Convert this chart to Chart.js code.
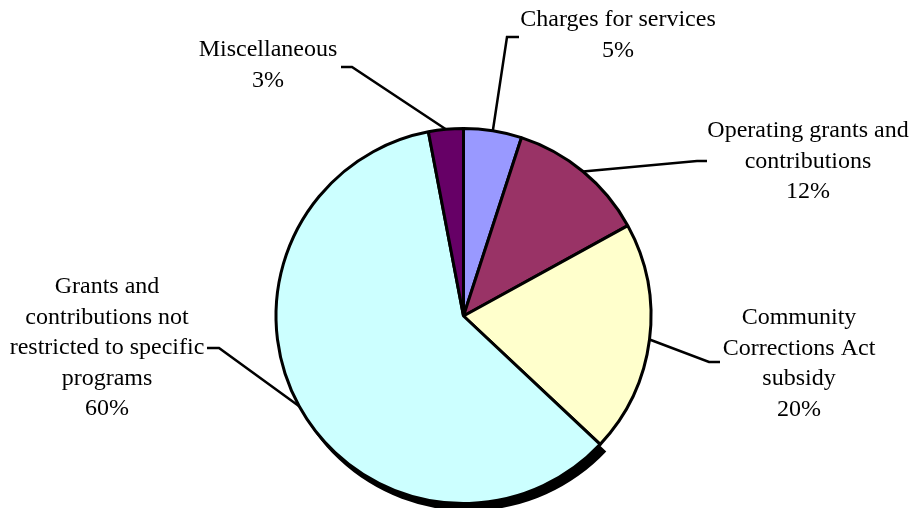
<!DOCTYPE html>
<html>
<head>
<meta charset="utf-8">
<script src="https://cdn.jsdelivr.net/npm/chart.js@4.4.0/dist/chart.umd.min.js"></script>
<style>
  html, body { margin: 0; padding: 0; background: #fff; }
  #wrap { width: 916px; height: 508px; position: relative; }
</style>
</head>
<body>
<div id="wrap"><canvas id="pie"></canvas></div>
<script>
const categories = [
    ['Charges for services'],
    ['Operating grants and', 'contributions'],
    ['Community', 'Corrections Act', 'subsidy'],
    ['Grants and', 'contributions not', 'restricted to specific', 'programs'],
    ['Miscellaneous']
];
const shares = [5, 12, 20, 60, 3];
const sliceColors = ['#9999FF', '#993366', '#FFFFCC', '#CCFFFF', '#660066'];

// where each label sits: elbow of leader line, end of the short tail, text centre and first line y
const labelLayout = [
    { elbow: [507, 37], tail: [519, 37], x: 618, y: 20 },
    { elbow: [697, 161], tail: [707, 161], x: 808, y: 131 },
    { elbow: [709, 362], tail: [720, 362], x: 799, y: 318 },
    { elbow: [219, 348], tail: [207, 348], x: 107, y: 287 },
    { elbow: [352, 67], tail: [341, 67], x: 268, y: 50 }
];
const LINE_H = 30.5;

const shadowPlugin = {
    id: 'shadow',
    beforeDatasetsDraw(chart) {
        const arc = chart.getDatasetMeta(0).data[3];
        if (!arc) return;
        const ctx = chart.ctx;
        ctx.save();
        ctx.fillStyle = '#000';
        ctx.beginPath();
        ctx.moveTo(arc.x + 5, arc.y + 6);
        ctx.arc(arc.x + 5, arc.y + 6, arc.outerRadius + 1.5, arc.startAngle, arc.endAngle);
        ctx.closePath();
        ctx.fill();
        ctx.restore();
    }
};

const labelPlugin = {
    id: 'leaders',
    afterDatasetsDraw(chart) {
        const ctx = chart.ctx;
        const arcs = chart.getDatasetMeta(0).data;
        ctx.save();
        arcs.forEach((arc, i) => {
            const mid = (arc.startAngle + arc.endAngle) / 2;
            const r = arc.outerRadius;
            const sx = arc.x + Math.cos(mid) * r;
            const sy = arc.y + Math.sin(mid) * r;
            const lay = labelLayout[i];
            ctx.strokeStyle = '#000';
            ctx.lineWidth = 2.5;
            ctx.beginPath();
            ctx.moveTo(sx, sy);
            ctx.lineTo(lay.elbow[0], lay.elbow[1]);
            ctx.lineTo(lay.tail[0], lay.tail[1]);
            ctx.stroke();

            const lines = categories[i].concat([shares[i] + '%']);
            ctx.fillStyle = '#000';
            ctx.font = '24px "Liberation Serif", "Times New Roman", serif';
            ctx.textAlign = 'center';
            ctx.textBaseline = 'middle';
            lines.forEach((t, k) => ctx.fillText(t, lay.x, lay.y + k * LINE_H));
        });
        ctx.restore();
    }
};

new Chart(document.getElementById('pie'), {
    type: 'pie',
    data: {
        labels: categories.map(c => c.join(' ')),
        datasets: [{
            data: shares,
            backgroundColor: sliceColors,
            borderColor: '#000',
            borderWidth: 3
        }]
    },
    options: {
        responsive: true,
        maintainAspectRatio: false,
        animation: false,
        layout: { padding: { top: 127, bottom: 3, left: 111, right: 100 } },
        plugins: { legend: { display: false }, tooltip: { enabled: false } }
    },
    plugins: [shadowPlugin, labelPlugin]
});
</script>
</body>
</html>
